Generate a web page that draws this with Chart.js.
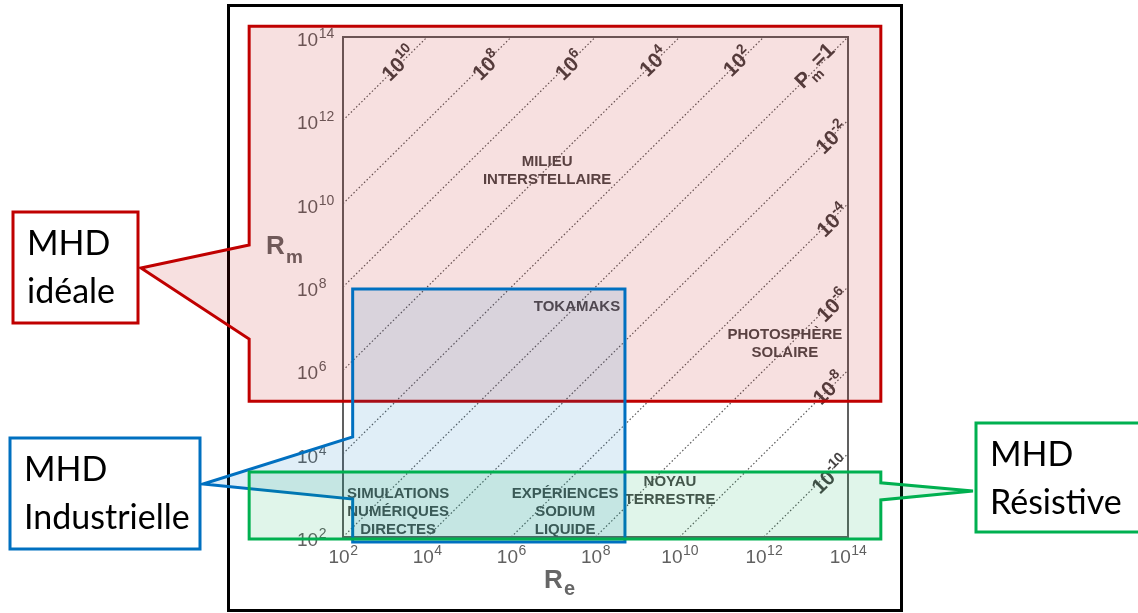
<!DOCTYPE html>
<html>
<head>
<meta charset="utf-8">
<title>Re - Rm</title>
<script src="https://cdn.jsdelivr.net/npm/chart.js@4.4.1/dist/chart.umd.min.js"></script>
<style>
  html, body { margin: 0; padding: 0; background: #fff; }
</style>
</head>
<body>
<canvas id="myChart" width="1138" height="613"></canvas>
<script>
// Tick exponents on both axes (10^2 ... 10^14)
const tickExponents = [2, 4, 6, 8, 10, 12, 14];

// Magnetic Prandtl number lines Pm = Rm / Re (exponents)
const pmExponents = [10, 8, 6, 4, 2, 0, -2, -4, -6, -8, -10];
// Where each Pm label sits (log10 Re, log10 Rm)
const pmLabelRe = [3.31, 5.40, 7.37, 9.37, 11.36, 13.22, 13.60, 13.62, 13.62, 13.53, 13.57];
const pmLabelRm = [13.38, 13.33, 13.33, 13.42, 13.42, 13.30, 11.60, 9.61, 7.57, 5.58, 3.51];

// Physical systems placed in the diagram
const systemLines = [
  ["MILIEU", "INTERSTELLAIRE"],
  ["TOKAMAKS"],
  ["PHOTOSPHÈRE", "SOLAIRE"],
  ["SIMULATIONS", "NUMÉRIQUES", "DIRECTES"],
  ["EXPÉRIENCES", "SODIUM", "LIQUIDE"],
  ["NOYAU", "TERRESTRE"],
];
const systemRe = [6.85, 7.56, 12.50, 3.31, 7.28, 9.77];
const systemRm = [10.78, 7.52, 6.63, 2.60, 2.60, 3.10];

// MHD regimes (log10 bounds) and where their pointer leaves the box edge
const regimeNames = [["MHD", "idéale"], ["MHD", "Industrielle"], ["MHD", "Résistive"]];
const regimeRe = [[-0.23, 14.78], [2.23, 8.70], [-0.23, 14.78]];
const regimeRm = [[5.26, 14.26], [1.88, 7.95], [1.95, 3.56]];
const regimeNotchRm = [[9.01, 6.75], [4.40, 2.91], [3.30, 2.89]];

const FONT = "'Liberation Sans', Arial, sans-serif";

// Build one dotted line per Pm value, clipped to the 10^2..10^14 square
const pmDatasets = pmExponents.map((e) => {
  const x0 = Math.max(2, 2 - e);
  const x1 = Math.min(14, 14 - e);
  return {
    data: [
      { x: Math.pow(10, x0), y: Math.pow(10, x0 + e) },
      { x: Math.pow(10, x1), y: Math.pow(10, x1 + e) },
    ],
    showLine: true,
    borderColor: "#5a5a5a",
    borderWidth: 1.2,
    borderDash: [1.5, 2.2],
    pointRadius: 0,
    fill: false,
  };
});

// Callout boxes in the slide margins (layout only)
const calloutStyle = [
  { color: "#C00000", fill: "rgba(192,0,0,0.12)", box: [13, 212, 125, 111], tipY: 268, side: "left" },
  { color: "#0070C0", fill: "rgba(0,112,192,0.12)", box: [10, 438, 190, 111], tipY: 484, side: "left" },
  { color: "#00B050", fill: "rgba(0,176,80,0.12)", box: [976, 423, 175, 109], tipY: 491, side: "right" },
];

// "10" with a raised exponent; (x, y) = left end of "10" on its baseline
function powWidth(ctx, e, base, small) {
  ctx.font = base + "px " + FONT;
  const w1 = ctx.measureText("10").width;
  ctx.font = small + "px " + FONT;
  return w1 + ctx.measureText(String(e)).width;
}
function drawPow(ctx, e, x, y, base, small, rise) {
  ctx.textAlign = "left";
  ctx.textBaseline = "alphabetic";
  ctx.font = base + "px " + FONT;
  ctx.fillText("10", x, y);
  const w1 = ctx.measureText("10").width;
  ctx.font = small + "px " + FONT;
  ctx.fillText(String(e), x + w1 + 0.5, y - rise);
}

const diagramPlugin = {
  id: "diagram",
  afterDatasetsDraw(chart) {
    const ctx = chart.ctx;
    const a = chart.chartArea;
    const xs = chart.scales.x;
    const ys = chart.scales.y;
    const px = (v) => xs.getPixelForValue(Math.pow(10, v));
    const py = (v) => ys.getPixelForValue(Math.pow(10, v));
    ctx.save();

    // outer frame of the scanned figure
    ctx.strokeStyle = "#000";
    ctx.lineWidth = 3;
    ctx.strokeRect(228.5, 5.5, 673, 605);

    // plot box
    ctx.strokeStyle = "#606060";
    ctx.lineWidth = 2;
    ctx.strokeRect(a.left, a.top, a.right - a.left, a.bottom - a.top);

    // tick labels from the scales' ticks
    ctx.fillStyle = "#606060";
    xs.ticks.forEach((t) => {
      const e = Math.round(Math.log10(t.value));
      const w = powWidth(ctx, e, 19, 14);
      drawPow(ctx, e, xs.getPixelForValue(t.value) - w / 2, a.bottom + 26, 19, 14, 8);
    });
    ys.ticks.forEach((t) => {
      const e = Math.round(Math.log10(t.value));
      drawPow(ctx, e, a.left - 46, ys.getPixelForValue(t.value) + 9, 19, 14, 8);
    });

    // Pm labels, rotated along the lines
    const angle = Math.atan2(py(14) - py(2), px(14) - px(2));
    ctx.fillStyle = "#474444";
    pmExponents.forEach((e, i) => {
      ctx.save();
      ctx.translate(px(pmLabelRe[i]), py(pmLabelRm[i]));
      ctx.rotate(angle);
      ctx.textBaseline = "alphabetic";
      ctx.textAlign = "left";
      if (e === 0) {
        ctx.font = "bold 21px " + FONT;
        const wP = ctx.measureText("P").width;
        const wE = ctx.measureText("=1").width;
        ctx.font = "bold 14px " + FONT;
        const wm = ctx.measureText("m").width;
        let x = -(wP + wm + wE) / 2;
        ctx.font = "bold 21px " + FONT;
        ctx.fillText("P", x, 8);
        x += wP;
        ctx.font = "bold 14px " + FONT;
        ctx.fillText("m", x, 13);
        x += wm;
        ctx.font = "bold 21px " + FONT;
        ctx.fillText("=1", x, 4);
      } else {
        ctx.font = "bold 21px " + FONT;
        const w1 = ctx.measureText("10").width;
        ctx.font = "bold 14px " + FONT;
        const w2 = ctx.measureText(String(e)).width;
        let x = -(w1 + w2) / 2;
        ctx.font = "bold 21px " + FONT;
        ctx.fillText("10", x, 8);
        ctx.font = "bold 14px " + FONT;
        ctx.fillText(String(e), x + w1, -1);
      }
      ctx.restore();
    });

    // systems
    ctx.fillStyle = "#4d4b4b";
    ctx.font = "bold 15px " + FONT;
    ctx.textAlign = "center";
    ctx.textBaseline = "middle";
    systemLines.forEach((lines, i) => {
      const cx = px(systemRe[i]);
      const cy = py(systemRm[i]);
      lines.forEach((t, j) => {
        ctx.fillText(t, cx, cy + (j - (lines.length - 1) / 2) * 18);
      });
    });

    // axis titles
    ctx.fillStyle = "#666";
    ctx.textAlign = "left";
    ctx.textBaseline = "alphabetic";
    ctx.font = "bold 26px " + FONT;
    ctx.fillText("R", a.left - 77, a.top + 217);
    ctx.font = "bold 19px " + FONT;
    ctx.fillText("m", a.left - 57, a.top + 226);
    ctx.font = "bold 26px " + FONT;
    ctx.fillText("R", a.left + 201, a.bottom + 51);
    ctx.font = "bold 20px " + FONT;
    ctx.fillText("e", a.left + 221, a.bottom + 58);
    ctx.restore();
  },
  afterDraw(chart) {
    const ctx = chart.ctx;
    const px = (v) => chart.scales.x.getPixelForValue(Math.pow(10, v));
    const py = (v) => chart.scales.y.getPixelForValue(Math.pow(10, v));
    ctx.save();
    regimeNames.forEach((name, i) => {
      const st = calloutStyle[i];
      const [bx, by, bw, bh] = st.box;
      const l = px(regimeRe[i][0]);
      const r = px(regimeRe[i][1]);
      const t = py(regimeRm[i][1]);
      const b = py(regimeRm[i][0]);
      const n1 = py(regimeNotchRm[i][0]);
      const n2 = py(regimeNotchRm[i][1]);

      ctx.beginPath();
      if (st.side === "left") {
        const tipX = bx + bw + 3;
        ctx.moveTo(l, t);
        ctx.lineTo(r, t);
        ctx.lineTo(r, b);
        ctx.lineTo(l, b);
        ctx.lineTo(l, n2);
        ctx.lineTo(tipX, st.tipY);
        ctx.lineTo(l, n1);
      } else {
        const tipX = bx - 3;
        ctx.moveTo(l, t);
        ctx.lineTo(r, t);
        ctx.lineTo(r, n1);
        ctx.lineTo(tipX, st.tipY);
        ctx.lineTo(r, n2);
        ctx.lineTo(r, b);
        ctx.lineTo(l, b);
      }
      ctx.closePath();
      ctx.fillStyle = st.fill;
      ctx.fill();
      ctx.strokeStyle = st.color;
      ctx.lineWidth = 3;
      ctx.lineJoin = "miter";
      ctx.stroke();

      // callout box
      ctx.fillStyle = "#fff";
      ctx.fillRect(bx, by, bw, bh);
      ctx.strokeRect(bx, by, bw, bh);
      ctx.fillStyle = "#000";
      ctx.font = "34px Lato, 'Open Sans', sans-serif";
      ctx.textAlign = "left";
      ctx.textBaseline = "alphabetic";
      ctx.fillText(name[0], bx + 14, by + 43);
      ctx.fillText(name[1], bx + 14, by + 91);
    });
    ctx.restore();
  },
};

const axisCommon = {
  type: "logarithmic",
  min: 1e2,
  max: 1e14,
  afterBuildTicks: (scale) => {
    scale.ticks = tickExponents.map((e) => ({ value: Math.pow(10, e) }));
  },
  grid: { display: false, drawTicks: false },
  border: { display: false },
  ticks: { display: false },
};

window.addEventListener("load", function () {
  const ctx = document.getElementById("myChart");
  new Chart(ctx, {
    type: "scatter",
    data: { datasets: pmDatasets },
    options: {
      responsive: false,
      animation: false,
      layout: { padding: { left: 283, right: 290, top: 37, bottom: 0 } },
      plugins: { legend: { display: false }, tooltip: { enabled: false } },
      scales: {
        x: {
          ...axisCommon,
          afterFit: (scale) => {
            scale.height = 76;
          },
        },
        y: {
          ...axisCommon,
          afterFit: (scale) => {
            scale.width = 60;
          },
        },
      },
    },
    plugins: [diagramPlugin],
  });
});
</script>
</body>
</html>
